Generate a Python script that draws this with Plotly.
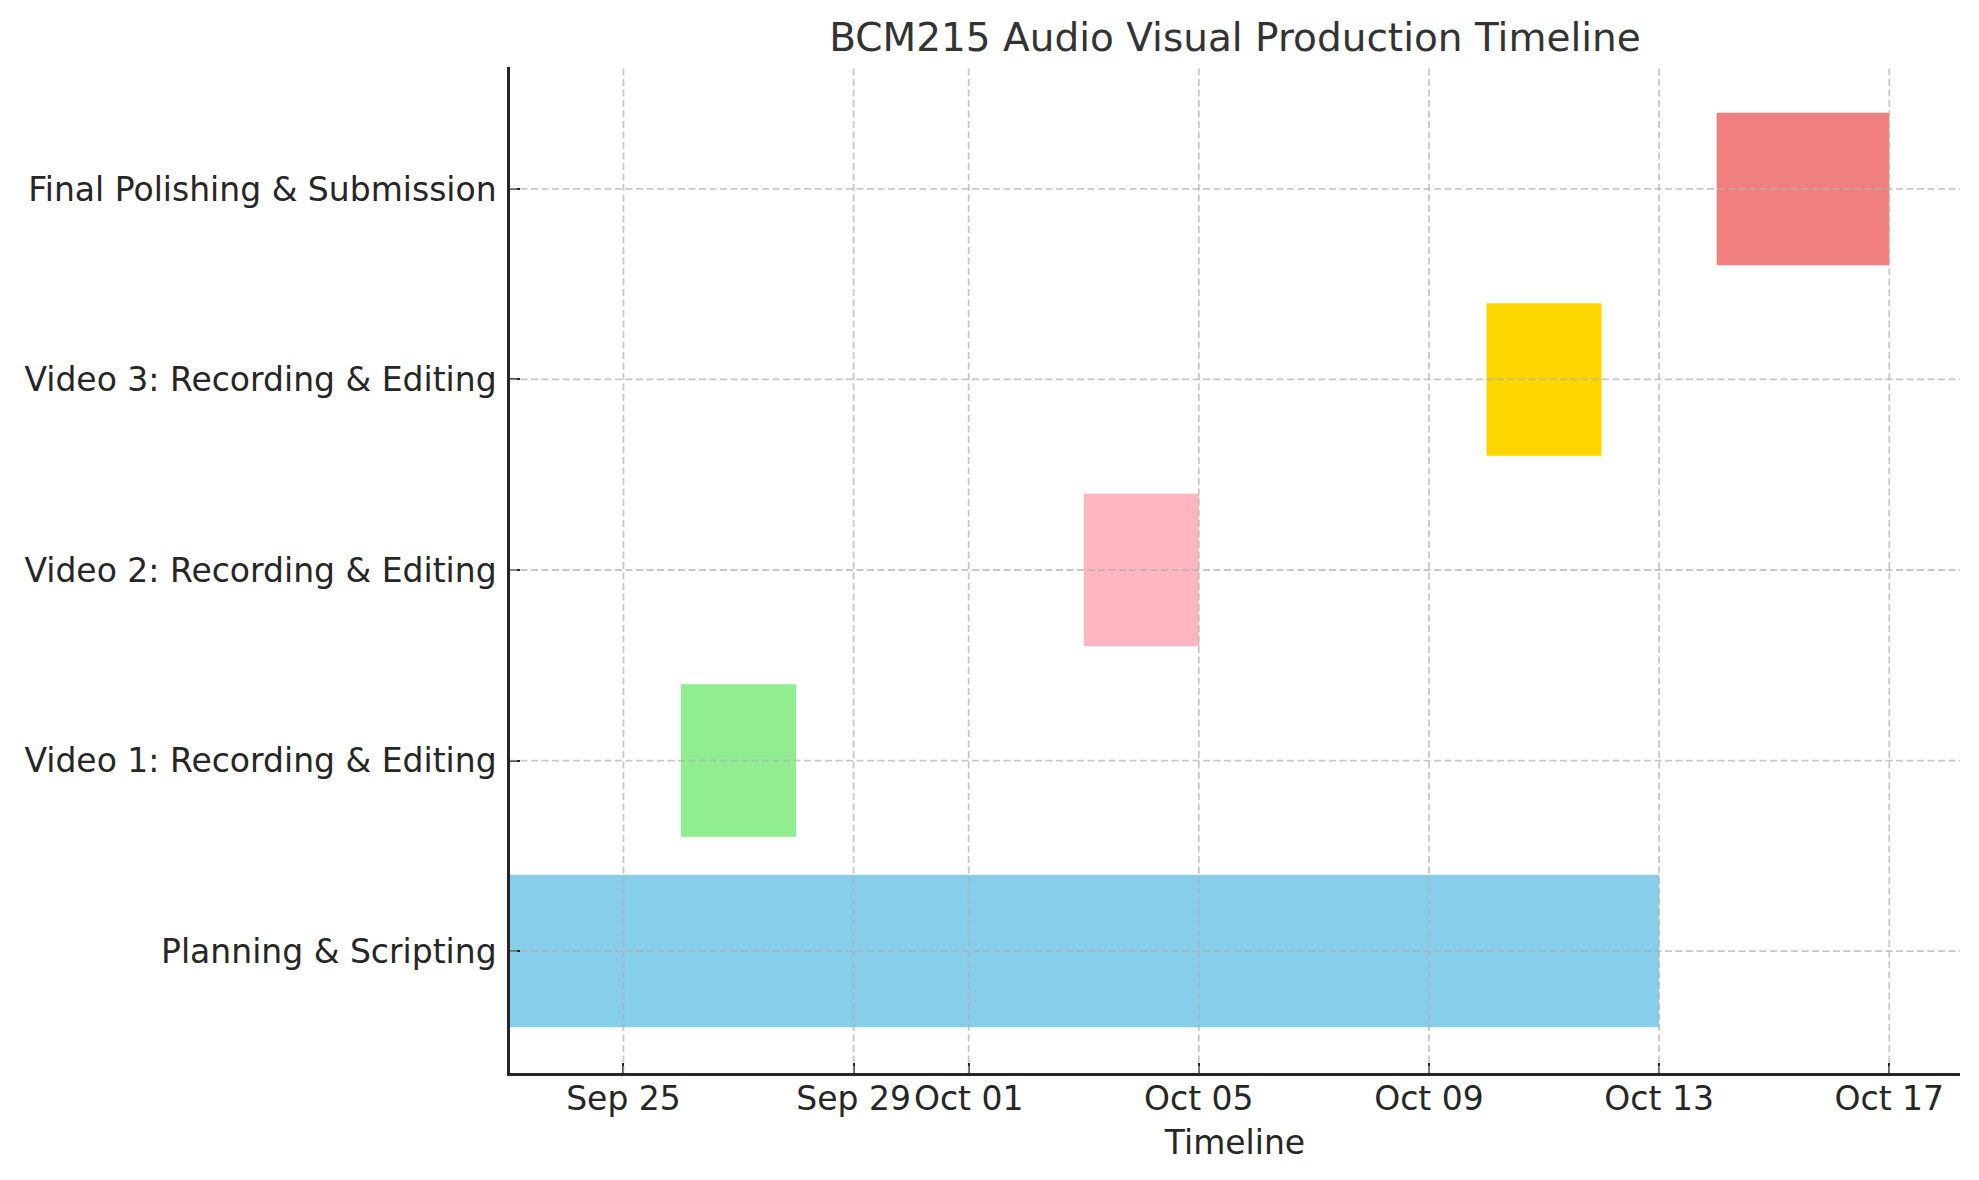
import plotly.graph_objects as go
import pandas as pd

tasks = ["Planning & Scripting", "Video 1: Recording & Editing", "Video 2: Recording & Editing",
         "Video 3: Recording & Editing", "Final Polishing & Submission"]
starts = ["2023-09-23", "2023-09-26", "2023-10-03", "2023-10-10", "2023-10-14"]
ends = ["2023-10-13", "2023-09-28", "2023-10-05", "2023-10-12", "2023-10-17"]
colors = ["#87CEEB", "#90EE90", "#FFB6C1", "#FFD700", "#F08080"]

x_tickvals = ["2023-09-25", "2023-09-29", "2023-10-01", "2023-10-05", "2023-10-09", "2023-10-13", "2023-10-17"]
x_ticktext = ["Sep 25", "Sep 29", "Oct 01", "Oct 05", "Oct 09", "Oct 13", "Oct 17"]
x_range = ["2023-09-23 00:40", "2023-10-18 05:30"]

FONT = "DejaVu Sans"
TXT = "#262626"

fig = go.Figure()
ypos = list(range(len(tasks)))
for i, (t, s, e, c) in enumerate(zip(tasks, starts, ends, colors)):
    dur = (pd.Timestamp(e) - pd.Timestamp(s)).total_seconds() * 1000
    fig.add_trace(go.Bar(
        y=[ypos[i]], x=[dur], base=[s], orientation="h",
        marker=dict(color=c, line=dict(width=0)), width=0.8,
        name=t, showlegend=False,
    ))

# grid lines drawn above bars (as in reference), derived from tick arrays
grid_style = dict(color="rgba(176,176,176,0.7)", width=1.8, dash="7px,3.5px")
shapes = []
for tv in x_tickvals:
    shapes.append(dict(type="line", xref="x", yref="paper", x0=tv, x1=tv, y0=0, y1=1,
                       line=grid_style, layer="above"))
for yv in ypos:
    shapes.append(dict(type="line", xref="paper", yref="y", x0=0, x1=1, y0=yv, y1=yv,
                       line=grid_style, layer="above"))

fig.update_layout(
    width=1979, height=1180,
    margin=dict(l=510, r=19, t=67, b=107),
    paper_bgcolor="white", plot_bgcolor="white",
    barmode="overlay",
    shapes=shapes,
    font=dict(family=FONT, size=33, color=TXT),
    title=dict(text="BCM215 Audio Visual Production Timeline", x=0.5, xref="paper",
               y=1 - 37 / 1180, yref="container", xanchor="center", yanchor="middle",
               font=dict(family=FONT, size=39, color="#333333")),
    xaxis=dict(type="date", range=x_range, tickvals=x_tickvals, ticktext=x_ticktext,
               showgrid=False, zeroline=False, showline=True, linecolor=TXT, linewidth=2.5,
               ticks="inside", ticklen=10, tickwidth=2.2, tickcolor=TXT,
               tickfont=dict(family=FONT, size=33, color=TXT),
               ticklabelstandoff=-5,
               title=dict(text="Timeline", font=dict(family=FONT, size=33, color=TXT), standoff=14),
               layer="above traces"),
    yaxis=dict(range=[-0.64, 4.64], tickvals=ypos, ticktext=tasks,
               showgrid=False, zeroline=False, showline=True, linecolor=TXT, linewidth=2.5,
               ticks="inside", ticklen=10, tickwidth=2.2, tickcolor=TXT,
               tickfont=dict(family=FONT, size=33, color=TXT),
               ticklabelstandoff=4,
               layer="above traces"),
)

fig.write_html("out.html")
